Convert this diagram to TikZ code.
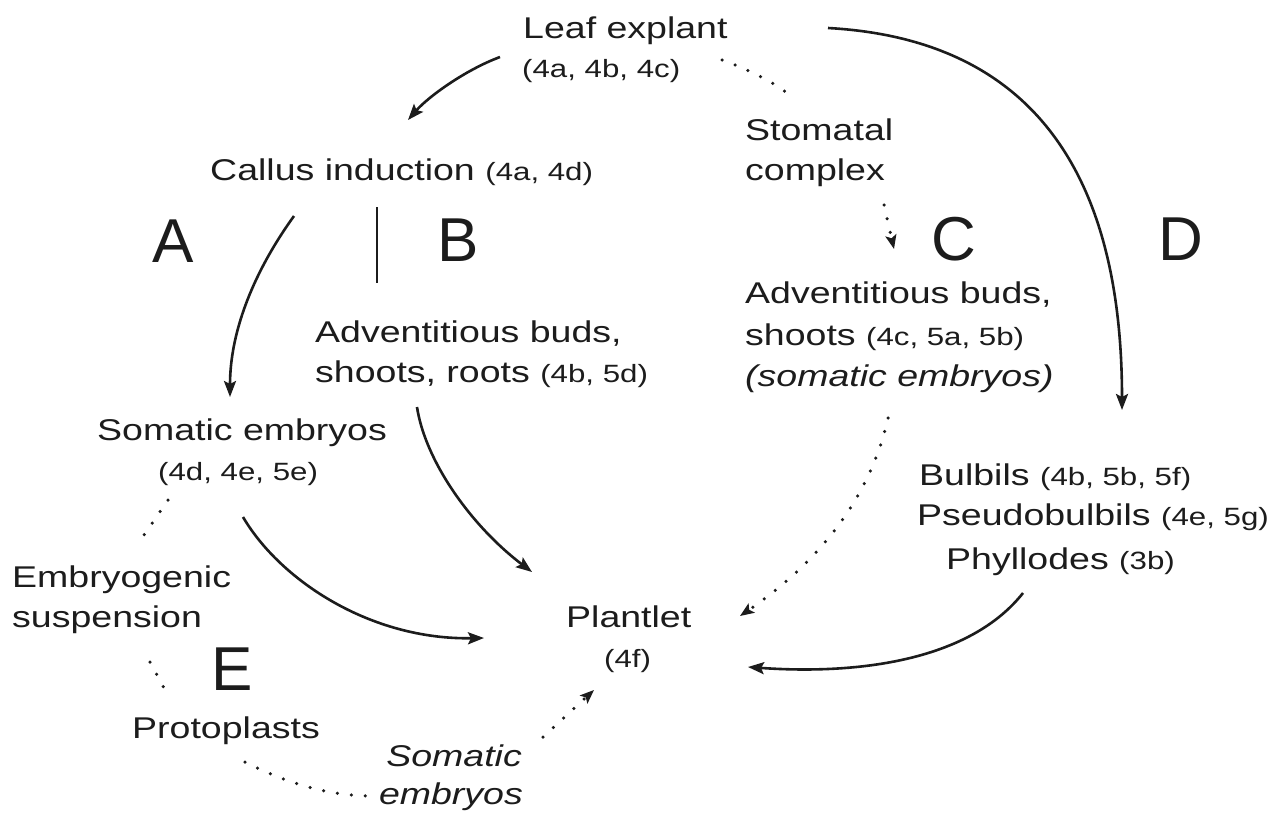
\documentclass[tikz,border=0pt]{standalone}
\usepackage{fontspec}
\setmainfont{Liberation Sans}[FakeStretch=1.25]
\newfontfamily\letterfont{Liberation Sans}
\usetikzlibrary{arrows.meta}
\definecolor{ink}{HTML}{1C1C1C}
\newcommand{\reftxt}[1]{{\fontsize{25}{29}\selectfont #1}}
\begin{document}
\begin{tikzpicture}[x=1pt,y=-1pt,
  lbl/.style={anchor=base west, inner sep=0pt, font=\fontsize{30}{36}\selectfont, text=ink},
  lblr/.style={lbl, anchor=base east},
  sm/.style={lbl, font=\fontsize{25}{29}\selectfont},
  bigletter/.style={anchor=base west, inner sep=0pt, font=\letterfont\fontsize{62}{70}\selectfont, text=ink},
  solidarrow/.style={draw=ink, line width=2.6pt, -{Stealth[length=16pt,width=12pt,inset=3pt]}},
  solidline/.style={draw=ink, line width=2.6pt},
  dotline/.style={draw=ink, line width=3.5pt, line cap=round, dash pattern=on 0pt off 14pt},
  dotarrow/.style={dotline, -{Stealth[length=14pt,width=11pt,inset=3pt]}}
]
\fill[white] (0,0) rectangle (1285,817);
\useasboundingbox (0,0) rectangle (1285,817);

% labels
\node[lbl] (leaf) at (523,38) {Leaf explant};
\node[sm] (leafref) at (522,77) {(4a, 4b, 4c)};
\node[lbl] (callus) at (210,180) {Callus induction \reftxt{(4a, 4d)}};
\node[bigletter] (A) at (152,262) {A};
\node[bigletter] (B) at (437,261) {B};
\node[bigletter] (C) at (931,260) {C};
\node[bigletter] (D) at (1158,260) {D};
\node[bigletter] (E) at (211,690) {E};
\node[lbl] (stom1) at (745,140) {Stomatal};
\node[lbl] (stom2) at (745,180) {complex};
\node[lbl] (advC1) at (745,303) {Adventitious buds,};
\node[lbl] (advC2) at (745,345) {shoots \reftxt{(4c, 5a, 5b)}};
\node[lbl] (advC3) at (745,386) {\itshape (somatic embryos)};
\node[lbl] (advB1) at (315,342) {Adventitious buds,};
\node[lbl] (advB2) at (315,382) {shoots, roots \reftxt{(4b, 5d)}};
\node[lbl] (somA1) at (97,440) {Somatic embryos};
\node[sm] (somA2) at (158,480) {(4d, 4e, 5e)};
\node[lbl] (emb1) at (12,587) {Embryogenic};
\node[lbl] (emb2) at (12,627) {suspension};
\node[lbl] (proto) at (132,738) {Protoplasts};
\node[lblr] (somE1) at (522,766) {\itshape Somatic};
\node[lblr] (somE2) at (523,804) {\itshape embryos};
\node[lbl] (plant1) at (566,627) {Plantlet};
\node[sm] (plant2) at (604,667) {(4f)};
\node[lbl] (bulb) at (919,485) {Bulbils \reftxt{(4b, 5b, 5f)}};
\node[lbl] (pseudo) at (917,525) {Pseudobulbils \reftxt{(4e, 5g)}};
\node[lbl] (phyl) at (946,569) {Phyllodes \reftxt{(3b)}};

% connector end points
\coordinate (leafL) at (500,57);
\coordinate (callusT) at (408,120);
\coordinate (leafR) at (828,28);
\coordinate (bulbT) at (1122,410);
\coordinate (leafD) at (722,60);
\coordinate (stomT) at (795,100);
\coordinate (stomB) at (884,205);
\coordinate (advCT) at (894,249);
\coordinate (callusA) at (294,216);
\coordinate (somAT) at (230,397);
\coordinate (barT) at (377,207);
\coordinate (barB) at (377,283);
\coordinate (advBB) at (417,407);
\coordinate (plantNW) at (532,572);
\coordinate (somAB) at (243,517);
\coordinate (plantW) at (484,638);
\coordinate (advCB) at (888,418);
\coordinate (plantNE) at (740,616);
\coordinate (phylB) at (1023,593);
\coordinate (plantE) at (748,667);
\coordinate (somAD) at (168,500);
\coordinate (embT) at (142,538);
\coordinate (embB) at (150,662);
\coordinate (protoT) at (165,690);
\coordinate (protoB) at (245,762);
\coordinate (somEL) at (368,796);
\coordinate (somER) at (543,737);
\coordinate (plantSW) at (594,690);

% solid connectors
\draw[solidarrow] (leafL) .. controls (465,70) and (428,97) .. (callusT);
\draw[solidarrow] (leafR) .. controls (1045,40) and (1122,190) .. (bulbT);
\draw[solidarrow] (callusA) .. controls (255,270) and (230,330) .. (somAT);
\draw[solidline] (barT) -- (barB);
\draw[solidarrow] (advBB) .. controls (425,460) and (470,525) .. (plantNW);
\draw[solidarrow] (somAB) .. controls (280,580) and (370,640) .. (plantW);
\draw[solidarrow] (phylB) .. controls (970,660) and (860,675) .. (plantE);

% dotted connectors
\draw[dotline] (leafD) .. controls (750,70) and (780,85) .. (stomT);
\draw[dotarrow] (stomB) -- (advCT);
\draw[dotarrow] (advCB) .. controls (870,500) and (815,565) .. (plantNE);
\draw[dotline] (somAD) -- (embT);
\draw[dotline] (embB) -- (protoT);
\draw[dotline] (protoB) .. controls (290,785) and (330,795) .. (somEL);
\draw[dotarrow] (somER) -- (plantSW);
\end{tikzpicture}
\end{document}
